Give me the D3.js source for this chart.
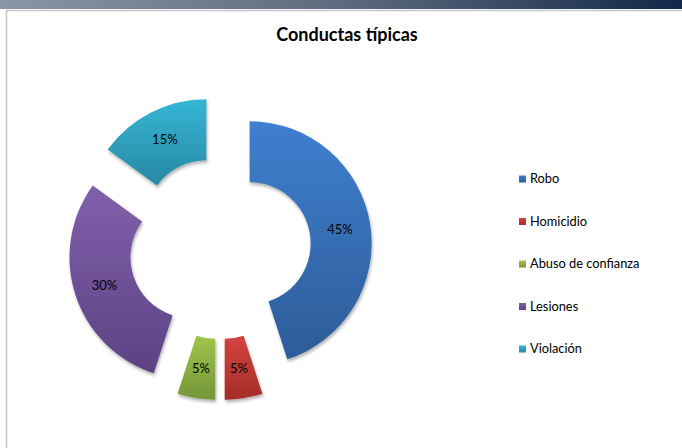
<!DOCTYPE html>
<html><head><meta charset="utf-8">
<script src="https://cdn.jsdelivr.net/npm/d3@7"></script>
<style>body{margin:0;background:#fff;}svg{display:block;}</style>
</head><body>
<script>
const categories = ["Robo","Homicidio","Abuso de confianza","Lesiones","Violación"];
const values = [45,5,5,30,15];
const labels = ["45%","5%","5%","30%","15%"];
const colorsTop = ["#3f7fcf","#d4443f","#a0c54c","#8160ab","#35b6d6"];
const colorsBottom = ["#2d5c98","#a42c29","#74963a","#5c4283","#2888a2"];
const title = "Conductas típicas";

const W = 682, H = 448;
const svg = d3.select("body").append("svg").attr("width", W).attr("height", H);
const defs = svg.append("defs");

const bg = defs.append("linearGradient").attr("id","banner").attr("x1","0").attr("x2","1").attr("y1","0").attr("y2","0");
bg.append("stop").attr("offset","0").attr("stop-color","#8a96a4");
bg.append("stop").attr("offset","0.5").attr("stop-color","#5d6b7e");
bg.append("stop").attr("offset","1").attr("stop-color","#132849");
svg.append("rect").attr("x",0).attr("y",0).attr("width",W).attr("height",9).attr("fill","url(#banner)");

svg.append("path").attr("d",`M6.5,${H} V10.5 H${W}`).attr("fill","none").attr("stroke","#c6c6c6").attr("stroke-width",1.6);

const f = defs.append("filter").attr("id","sh").attr("x","-20%").attr("y","-20%").attr("width","140%").attr("height","140%");
f.append("feDropShadow").attr("dx",1).attr("dy",2.5).attr("stdDeviation",1.6).attr("flood-color","#000").attr("flood-opacity",0.3);

categories.forEach((c,i)=>{
  const g = defs.append("linearGradient").attr("id","g"+i).attr("x1","0").attr("x2","0").attr("y1","0").attr("y2","1");
  g.append("stop").attr("offset","0").attr("stop-color",colorsTop[i]);
  g.append("stop").attr("offset","1").attr("stop-color",colorsBottom[i]);
});

svg.append("text").attr("x",347).attr("y",41).attr("text-anchor","middle")
  .attr("font-family","Lato, 'Open Sans', sans-serif").attr("font-weight","bold").attr("font-size",18)
  .attr("fill","#000").text(title);

const cx = 220, cy = 248, R = 122, r = 61, explode = 30;
const pie = d3.pie().sort(null).value(d=>d);
const arcs = pie(values);
const arc = d3.arc().innerRadius(r).outerRadius(R);
const arcLbl = d3.arc().innerRadius((R+r)/2).outerRadius((R+r)/2);

const gp = svg.append("g").attr("transform",`translate(${cx},${cy})`);
const slices = gp.selectAll("g.s").data(arcs).enter().append("g").attr("class","s")
  .attr("transform", d=>{
    const a = (d.startAngle+d.endAngle)/2;
    return `translate(${explode*Math.sin(a)},${-explode*Math.cos(a)})`;
  });
slices.append("path").attr("d",arc).attr("fill",(d,i)=>`url(#g${i})`).attr("filter","url(#sh)");
slices.append("text").attr("transform",d=>`translate(${arcLbl.centroid(d)})`)
  .attr("text-anchor","middle").attr("dy","0.35em")
  .attr("font-family","Lato, 'Open Sans', sans-serif").attr("font-size",13).attr("fill","#000")
  .text((d,i)=>labels[i]);

const ly = d3.scalePoint().domain(categories).range([179,349]);
const lg = svg.append("g");
const items = lg.selectAll("g").data(categories).enter().append("g")
  .attr("transform",d=>`translate(519,${ly(d)})`);
items.append("rect").attr("x",0).attr("y",-3.5).attr("width",7).attr("height",7)
  .attr("fill",(d,i)=>`url(#g${i})`);
items.append("text").attr("x",11).attr("dy","0.35em")
  .attr("font-family","Lato, 'Open Sans', sans-serif").attr("font-size",12.8).attr("fill","#000").text(d=>d);
</script>
</body></html>
